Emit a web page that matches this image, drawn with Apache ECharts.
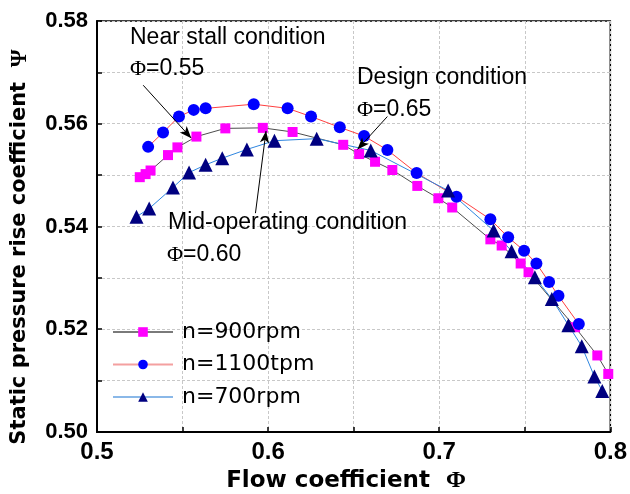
<!DOCTYPE html>
<html><head><meta charset="utf-8">
<script src="https://cdn.jsdelivr.net/npm/echarts@6/dist/echarts.min.js"></script>
<style>html,body{margin:0;padding:0;background:#fff}#c{width:630px;height:494px}</style>
</head><body><div id="c"></div>
<script>
// ---- data ----
const seriesNames = ['n=900rpm', 'n=1100tpm', 'n=700rpm'];

const phi900 = [0.5250,0.5284,0.5313,0.5415,0.5470,0.5581,0.5750,0.5969,0.6143,0.6439,0.6532,0.6625,0.6726,0.6872,0.6995,0.7076,0.7299,0.7365,0.7476,0.7522,0.7794,0.7924,0.7988];
const psi900 = [0.5496,0.5502,0.5509,0.5539,0.5554,0.5575,0.5591,0.5592,0.5584,0.5559,0.5541,0.5526,0.5510,0.5479,0.5455,0.5437,0.5375,0.5363,0.5328,0.5311,0.5204,0.5149,0.5113];

const phi1100 = [0.5299,0.5386,0.5479,0.5565,0.5635,0.5916,0.6114,0.6251,0.6419,0.6561,0.6697,0.6868,0.7101,0.7299,0.7403,0.7496,0.7568,0.7642,0.7697,0.7816];
const psi1100 = [0.5555,0.5583,0.5614,0.5627,0.5630,0.5638,0.5630,0.5614,0.5593,0.5576,0.5549,0.5504,0.5458,0.5414,0.5379,0.5353,0.5328,0.5292,0.5265,0.5210];

const phi700 = [0.5231,0.5305,0.5444,0.5538,0.5635,0.5732,0.5876,0.6037,0.6284,0.6600,0.7052,0.7318,0.7423,0.7559,0.7658,0.7755,0.7833,0.7907,0.7953];
const psi700 = [0.5419,0.5435,0.5476,0.5505,0.5520,0.5533,0.5550,0.5567,0.5571,0.5548,0.5470,0.5392,0.5352,0.5301,0.5259,0.5208,0.5167,0.5108,0.5080];

const xTickLabels = ['0.5', '0.6', '0.7', '0.8'];
const yTickLabels = ['0.50', '0.52', '0.54', '0.56', '0.58'];

// annotation arrows: [start, end] in data units (phi, psi)
const arrowNearStall = [[0.5270, 0.5675], [0.5551, 0.5572]];
const arrowMidOp = [[0.5926, 0.5426], [0.5988, 0.5586]];
const arrowDesign = [[0.6697, 0.5614], [0.6522, 0.5550]];

const annoTexts = [
  {text: 'Near stall condition', x: 130, y: 38},
  {text: '{p|Φ}=0.55', x: 130, y: 69},
  {text: 'Design condition', x: 357, y: 78},
  {text: '{p|Φ}=0.65', x: 357, y: 110},
  {text: 'Mid-operating condition', x: 168, y: 223},
  {text: '{p|Φ}=0.60', x: 167, y: 255}
];

// ---- build ----
const zip = (a, b) => a.map((v, i) => [v, b[i]]);
const near = (v, list) => list.some(s => Math.abs(parseFloat(s) - v) < 1e-6);

const chart = echarts.init(document.getElementById('c'), null, {renderer: 'canvas'});

const mk = arr => [{coord: arr[0]}, {coord: arr[1]}];

const baseSeries = (name, data, symbol, size, color, lineColor) => ({
  name, type: 'line', data, symbol, symbolSize: size,
  itemStyle: {color: color, borderWidth: 0, opacity: 1},
  lineStyle: {color: lineColor, width: 1},
  emphasis: {disabled: true},
  animation: false
});

const s900 = baseSeries(seriesNames[0], zip(phi900, psi900), 'rect', 10, '#ff00ff', '#4d4d4d');
const s1100 = baseSeries(seriesNames[1], zip(phi1100, psi1100), 'circle', 12, '#0000ff', '#ff4040');
const s700 = baseSeries(seriesNames[2], zip(phi700, psi700), 'triangle', 14, '#000080', '#2f86e0');
s700.markLine = {
  silent: true, animation: false,
  symbol: ['none', 'arrow'], symbolSize: [7, 12],
  lineStyle: {color: '#000', width: 1, type: 'solid'},
  label: {show: false},
  emphasis: {disabled: true},
  data: [mk(arrowNearStall), mk(arrowMidOp), mk(arrowDesign)]
};

const graphics = annoTexts.map(t => ({
  type: 'text', x: t.x, y: t.y, silent: true, z: 100,
  style: {
    text: t.text, fill: '#000',
    font: '23px "Liberation Sans", Arial, sans-serif',
    textAlign: 'left', textVerticalAlign: 'middle',
    rich: {p: {font: '22px "Liberation Serif", serif', fill: '#000'}}
  }
}));
graphics.push({
  type: 'text', x: 346, y: 481, silent: true,
  style: {
    text: 'Flow coefficient  {p|Φ}', fill: '#000',
    font: 'bold 23px "DejaVu Sans", sans-serif',
    textAlign: 'center', textVerticalAlign: 'middle',
    rich: {p: {font: 'bold 24px "Liberation Serif", serif', fill: '#000'}}
  }
});
graphics.push({
  type: 'text', x: 20, y: 247, rotation: Math.PI / 2, silent: true,
  style: {
    text: 'Static pressure rise coefficient  {p|Ψ}', fill: '#000',
    font: 'bold 21px "DejaVu Sans", sans-serif',
    textAlign: 'center', textVerticalAlign: 'middle',
    rich: {p: {font: 'bold 23px "Liberation Serif", serif', fill: '#000'}}
  }
});

const gridLine = {show: true, lineStyle: {color: '#c8c8c8', type: [3, 2], width: 1}};

chart.setOption({
  animation: false,
  backgroundColor: '#fff',
  grid: {left: 97, right: 18, top: 21, bottom: 62, show: true, borderColor: '#000', borderWidth: 1.5, backgroundColor: 'transparent'},
  xAxis: {
    type: 'value', min: 0.5, max: 0.8, interval: 0.05,
    axisLine: {show: true, onZero: false, lineStyle: {color: '#000', width: 2}},
    axisTick: {show: true, inside: true, length: 5, lineStyle: {color: '#000', width: 1.5}},
    splitLine: gridLine,
    axisLabel: {
      margin: 8, color: '#000', fontWeight: 'bold', fontSize: 24,
      fontFamily: '"Liberation Sans", Arial, sans-serif',
      formatter: v => (near(v, xTickLabels) ? v.toFixed(1) : ''),
      showMinLabel: true, showMaxLabel: true
    }
  },
  yAxis: {
    type: 'value', min: 0.50, max: 0.58, interval: 0.01,
    axisLine: {show: true, onZero: false, lineStyle: {color: '#000', width: 2}},
    axisTick: {show: true, inside: true, length: 5, lineStyle: {color: '#000', width: 1.5}},
    splitLine: gridLine,
    axisLabel: {
      margin: 9, color: '#000', fontWeight: 'bold', fontSize: 22,
      fontFamily: '"Liberation Sans", Arial, sans-serif',
      formatter: v => (near(v, yTickLabels) ? v.toFixed(2) : '')
    }
  },
  legend: {
    orient: 'vertical', left: 107, top: 316, itemGap: 10.5,
    itemWidth: 60, itemHeight: 12,
    selectedMode: false,
    textStyle: {fontSize: 22, lineHeight: 22, color: '#000', fontFamily: '"DejaVu Sans", sans-serif', padding: [0, 0, 0, 4]},
    data: [
      {name: seriesNames[0], lineStyle: {color: '#7a7a7a', width: 2}},
      {name: seriesNames[1], lineStyle: {color: '#f4a0a0', width: 2}},
      {name: seriesNames[2], lineStyle: {color: '#8ab8e8', width: 2}}
    ]
  },
  graphic: graphics,
  series: [s900, s1100, s700]
});
</script>
</body></html>
